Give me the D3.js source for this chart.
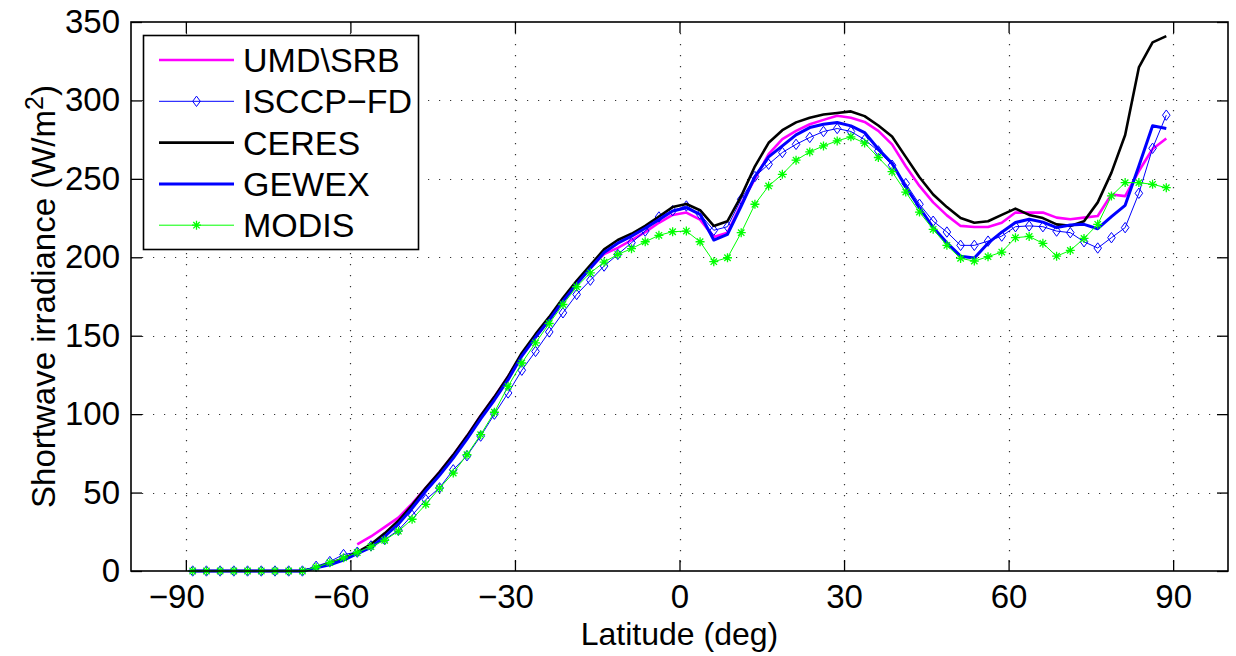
<!DOCTYPE html>
<html>
<head>
<meta charset="utf-8">
<script src="https://cdn.jsdelivr.net/npm/d3@7"></script>
<style>
  body { margin: 0; background: #fff; }
  svg { display: block; font-family: "Liberation Sans", Arial, sans-serif; }
</style>
</head>
<body>
<div id="chart"></div>
<script>
// latitudes of the zonal bands (deg)
const latitudes = [
  -88.75, -86.25, -83.75, -81.25, -78.75, -76.25, -73.75, -71.25, -68.75, -66.25,
  -63.75, -61.25, -58.75, -56.25, -53.75, -51.25, -48.75, -46.25, -43.75, -41.25,
  -38.75, -36.25, -33.75, -31.25, -28.75, -26.25, -23.75, -21.25, -18.75, -16.25,
  -13.75, -11.25, -8.75, -6.25, -3.75, -1.25, 1.25, 3.75, 6.25, 8.75,
  11.25, 13.75, 16.25, 18.75, 21.25, 23.75, 26.25, 28.75, 31.25, 33.75,
  36.25, 38.75, 41.25, 43.75, 46.25, 48.75, 51.25, 53.75, 56.25, 58.75,
  61.25, 63.75, 66.25, 68.75, 71.25, 73.75, 76.25, 78.75, 81.25, 83.75,
  86.25, 88.75
];

const umdSrb = [
  null, null, null, null, null, null, null, null, null, null,
  null, null, 17, 22, 28, 34, 43, 53, 63, 74,
  86, 99, 111, 124, 138, 150, 161, 173, 184, 193.5,
  202, 206, 211, 216, 222, 227, 228.5, 224, 213, 215.7,
  234, 250, 265.7, 275.3, 280.6, 284.8, 287.6, 290.2, 289, 286.3,
  280.6, 272, 258, 245.5, 235, 226.7, 220, 219.3, 219.3, 222,
  228.5, 228.5, 228.5, 225.3, 224.2, 225.3, 226.3, 240, 239, 255,
  269, 275.7
];

const isccpFd = [
  0, 0, 0, 0, 0, 0, 0, 0, 0, 3,
  6, 10.5, 12, 16, 20, 26, 35.5, 45.5, 53, 64.5,
  73.5, 86, 100, 113.5, 128, 140, 152.4, 164.6, 176.3, 185.4,
  194.4, 201.8, 209.3, 216.7, 225.7, 229.7, 232.7, 227.4, 217.2, 219.5,
  237, 251.5, 259.3, 266.8, 272, 276.4, 280.2, 282.1, 280.2, 275,
  267.8, 258.7, 247, 233.8, 223, 216.1, 207.6, 207.6, 210.3, 213.5,
  219.5, 220, 219.5, 216.7, 215.7, 209.9, 205.9, 212.5, 218.9, 240.8,
  269.5, 290.6
];

const ceres = [
  0, 0, 0, 0, 0, 0, 0, 0, 0, 2,
  5, 8, 12, 17, 24, 32, 42, 53, 63, 74,
  86, 99, 111, 124, 139, 151, 162, 174, 185, 195,
  205, 211, 215, 220, 226, 232, 234, 230, 220, 223,
  239, 258, 273, 281, 286, 289, 291, 292, 293, 290,
  284, 277, 264, 251, 240, 232, 225, 222, 223, 227,
  231, 227, 225, 221, 220, 223, 235, 254, 278, 321,
  337, 341
];

const gewex = [
  0, 0, 0, 0, 0, 0, 0, 0, 0, 2,
  4, 7, 11, 15, 22, 30, 40, 51, 61, 72,
  84, 97, 109, 122, 137, 149, 160, 172, 183, 193,
  203, 209, 213.5, 218.5, 224, 229.5, 231.6, 227.4, 211, 214.6,
  232.7, 251.5, 264, 271, 278, 282.7, 284.8, 285.9, 283.8, 279.5,
  269, 260, 245, 231.6, 219, 209.3, 200.7, 199.5, 209, 216,
  222.2, 224.2, 222.4, 218.9, 220.6, 221, 218.2, 225.9, 233.1, 258.2,
  283.8, 282.1
];

const modis = [
  0, 0, 0, 0, 0, 0, 0, 0, 0, 2.4,
  5.3, 8.4, 11.8, 15.5, 19.6, 25.4, 33, 42.5, 52.8, 62.4,
  74.1, 86.9, 101.2, 117.7, 132.6, 145.4, 157.8, 169.9, 181.2, 190.1,
  196.9, 201.8, 205.5, 209.9, 214, 216.3, 216.7, 209.9, 197.2, 199.7,
  215.7, 233.8, 245.5, 252.9, 261.9, 267.2, 271, 274.2, 276.8, 272.8,
  263.6, 254.6, 241.6, 228.8, 217.8, 207.6, 199.3, 197.6, 200.4, 203.3,
  212.5, 213.3, 208.9, 200.7, 204.4, 212, 221, 239.1, 247.6, 247.6,
  246.5, 244.4
];

const xTicks = [-90, -60, -30, 0, 30, 60, 90];
const yTicks = [0, 50, 100, 150, 200, 250, 300, 350];

const series = [
  { name: "UMD\\SRB", values: umdSrb, color: "#ff00ff", width: 2.6, marker: null },
  { name: "ISCCP\u2212FD", values: isccpFd, color: "#0000ff", width: 1, marker: "diamond" },
  { name: "CERES", values: ceres, color: "#000000", width: 2.6, marker: null },
  { name: "GEWEX", values: gewex, color: "#0000ff", width: 3, marker: null },
  { name: "MODIS", values: modis, color: "#00ff00", width: 1, marker: "star" }
];

const width = 1236, height = 656;
const margins = { top: 22, right: 8, bottom: 85, left: 131 };

const svg = d3.select("#chart").append("svg")
  .attr("width", width)
  .attr("height", height);

// Escalas
const x = d3.scaleLinear().domain([-100, 100]).range([margins.left, width - margins.right]);
const y = d3.scaleLinear().domain([0, 350]).range([height - margins.bottom, margins.top]);

// grid pontilhada
const grid = svg.append("g")
  .attr("stroke", "#333")
  .attr("stroke-width", 1.2)
  .attr("stroke-dasharray", "1.2,9.8");

grid.selectAll("line.gx").data(xTicks).join("line")
  .attr("x1", d => Math.round(x(d)) + 0.5).attr("x2", d => Math.round(x(d)) + 0.5)
  .attr("y1", y(350)).attr("y2", y(0));

grid.selectAll("line.gy").data(yTicks.slice(1, -1)).join("line")
  .attr("y1", d => Math.round(y(d)) + 0.5).attr("y2", d => Math.round(y(d)) + 0.5)
  .attr("x1", x(-100)).attr("x2", x(100));

// Eixos
const tickFont = "33px";

const xAxis = svg.append("g")
  .attr("transform", `translate(0, ${y(0)})`)
  .call(d3.axisBottom(x).tickValues(xTicks).tickSizeInner(-11).tickSizeOuter(0).tickPadding(14));
xAxis.selectAll("text")
  .style("font-size", tickFont)
  .attr("fill", "#000")
  .attr("dx", d => d < 0 ? "-0.29em" : 0);

const yAxis = svg.append("g")
  .attr("transform", `translate(${x(-100)}, 0)`)
  .call(d3.axisLeft(y).tickValues(yTicks).tickSizeInner(-11).tickSizeOuter(0).tickPadding(11));
yAxis.selectAll("text").style("font-size", tickFont).attr("fill", "#000");

svg.append("g")
  .attr("transform", `translate(0, ${y(350)})`)
  .call(d3.axisTop(x).tickValues(xTicks).tickSizeInner(-11).tickSizeOuter(0).tickFormat(""));

svg.append("g")
  .attr("transform", `translate(${x(100)}, 0)`)
  .call(d3.axisRight(y).tickValues(yTicks).tickSizeInner(-11).tickSizeOuter(0).tickFormat(""));

svg.selectAll(".domain").remove();
svg.selectAll(".tick line").attr("stroke", "#000").attr("stroke-width", 1.3);

// Linhas
const line = d3.line()
  .defined(d => d.v !== null)
  .x(d => x(d.lat))
  .y(d => y(d.v));

const diamond = "M0,-5.2L3.8,0L0,5.2L-3.8,0Z";
const star = "M-4.5,0H4.5M0,-4.5V4.5M-3.2,-3.2L3.2,3.2M-3.2,3.2L3.2,-3.2";

series.forEach(s => {
  const pts = latitudes.map((lat, i) => ({ lat, v: s.values[i] }));
  svg.append("path")
    .datum(pts)
    .attr("fill", "none")
    .attr("stroke", s.color)
    .attr("stroke-width", s.width)
    .attr("stroke-linejoin", "round")
    .attr("d", line);

  if (s.marker) {
    svg.append("g").selectAll("path")
      .data(pts.filter(p => p.v !== null))
      .join("path")
      .attr("transform", p => `translate(${x(p.lat)},${y(p.v)})`)
      .attr("d", s.marker === "diamond" ? diamond : star)
      .attr("fill", "none")
      .attr("stroke", s.color)
      .attr("stroke-width", s.marker === "diamond" ? 1 : 1.3);
  }
});

// moldura
svg.append("rect")
  .attr("x", x(-100)).attr("y", y(350))
  .attr("width", x(100) - x(-100)).attr("height", y(0) - y(350))
  .attr("fill", "none")
  .attr("stroke", "#000")
  .attr("stroke-width", 1.6);

// Rótulos
svg.append("text")
  .attr("x", (x(-100) + x(100)) / 2)
  .attr("y", 645)
  .attr("text-anchor", "middle")
  .style("font-size", "32px")
  .text("Latitude (deg)");

const yLabel = svg.append("text")
  .attr("transform", `translate(55, ${(y(0) + y(350)) / 2}) rotate(-90)`)
  .attr("text-anchor", "middle")
  .style("font-size", "33px");
yLabel.append("tspan").text("Shortwave irradiance (W/m");
yLabel.append("tspan").attr("dy", "-0.5em").style("font-size", "25px").text("2");
yLabel.append("tspan").attr("dy", "0.38em").text(")");

// Legenda
const legend = svg.append("g");
legend.append("rect")
  .attr("x", 143.5).attr("y", 35.5)
  .attr("width", 275).attr("height", 214)
  .attr("fill", "#fff")
  .attr("stroke", "#000")
  .attr("stroke-width", 1.6);

series.forEach((s, i) => {
  const cy = 60 + i * 41.3;
  legend.append("line")
    .attr("x1", 159).attr("x2", 234)
    .attr("y1", cy).attr("y2", cy)
    .attr("stroke", s.color)
    .attr("stroke-width", s.width);
  if (s.marker) {
    legend.append("path")
      .attr("transform", `translate(196.5,${cy})`)
      .attr("d", s.marker === "diamond" ? diamond : star)
      .attr("fill", "none")
      .attr("stroke", s.color)
      .attr("stroke-width", s.marker === "diamond" ? 1 : 1.3);
  }
  legend.append("text")
    .attr("x", 243)
    .attr("y", cy + 12)
    .style("font-size", "34px")
    .text(s.name);
});
</script>
</body>
</html>
